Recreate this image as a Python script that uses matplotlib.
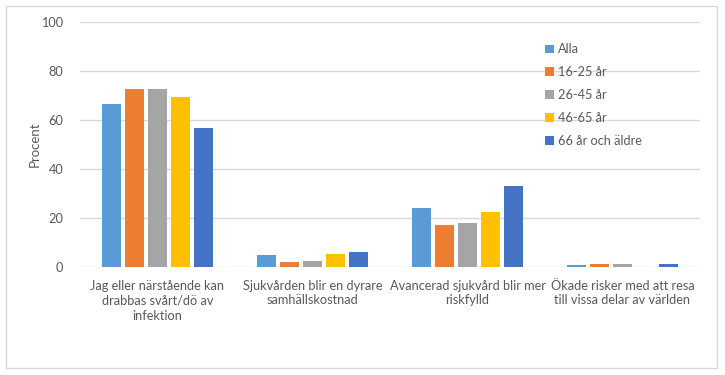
import numpy as np
import matplotlib.pyplot as plt
from matplotlib.patches import Rectangle

plt.rcParams['font.family'] = ['Lato', 'DejaVu Sans']

categories = ['Jag eller närstående kan\ndrabbas svårt/dö av\ninfektion',
              'Sjukvården blir en dyrare\nsamhällskostnad',
              'Avancerad sjukvård blir mer\nriskfylld',
              'Ökade risker med att resa\ntill vissa delar av världen']
groups = ['Alla', '16-25 år', '26-45 år', '46-65 år', '66 år och äldre']
alla = [66.7, 4.7, 24.1, 0.7]
age_16_25 = [72.5, 1.9, 17.1, 1.4]
age_26_45 = [72.8, 2.6, 17.9, 1.4]
age_46_65 = [69.4, 5.3, 22.6, 0.0]
age_66 = [56.6, 6.0, 33.0, 1.4]
colors = ['#5B9BD5', '#ED7D31', '#A5A5A5', '#FFC000', '#4472C4']

series = [alla, age_16_25, age_26_45, age_46_65, age_66]

fig = plt.figure(figsize=(7.25, 3.75), dpi=100)
ax = fig.add_axes([80/725, 1-267/375, 620/725, 245/375])

x = np.arange(len(categories))
slot = 0.148
for i, (vals, name, c) in enumerate(zip(series, groups, colors)):
    ax.bar(x + (i - 2) * slot, vals, width=slot * 0.85, color=c, label=name,
           linewidth=0, zorder=3)

ax.set_xlim(-0.5, 3.5)
ax.set_ylim(0, 100)
ax.set_yticks([0, 20, 40, 60, 80, 100])
ax.grid(axis='y', color='#d9d9d9', linewidth=1, zorder=0)
for s in ax.spines.values():
    s.set_visible(False)
ax.tick_params(length=0, colors='#595959', labelsize=9.2)
ax.tick_params(axis='y', pad=12)
ax.tick_params(axis='x', pad=9)
ax.set_xticks(x)
ax.set_xticklabels(categories, linespacing=1.3)
ax.set_ylabel('Procent', color='#595959', fontsize=9.5, labelpad=0)

leg = ax.legend(loc='upper left', bbox_to_anchor=(0.732, 0.96), frameon=False,
                fontsize=9.2, handlelength=0.65, handleheight=0.65,
                handletextpad=0.35, labelspacing=0.85)
for t in leg.get_texts():
    t.set_color('#595959')

fig.patches.append(Rectangle((6/725, 7/375), 711/725, 362/375, transform=fig.transFigure,
                             fill=False, edgecolor='#d9d9d9', linewidth=1))

fig.savefig('out.png', dpi=100)
